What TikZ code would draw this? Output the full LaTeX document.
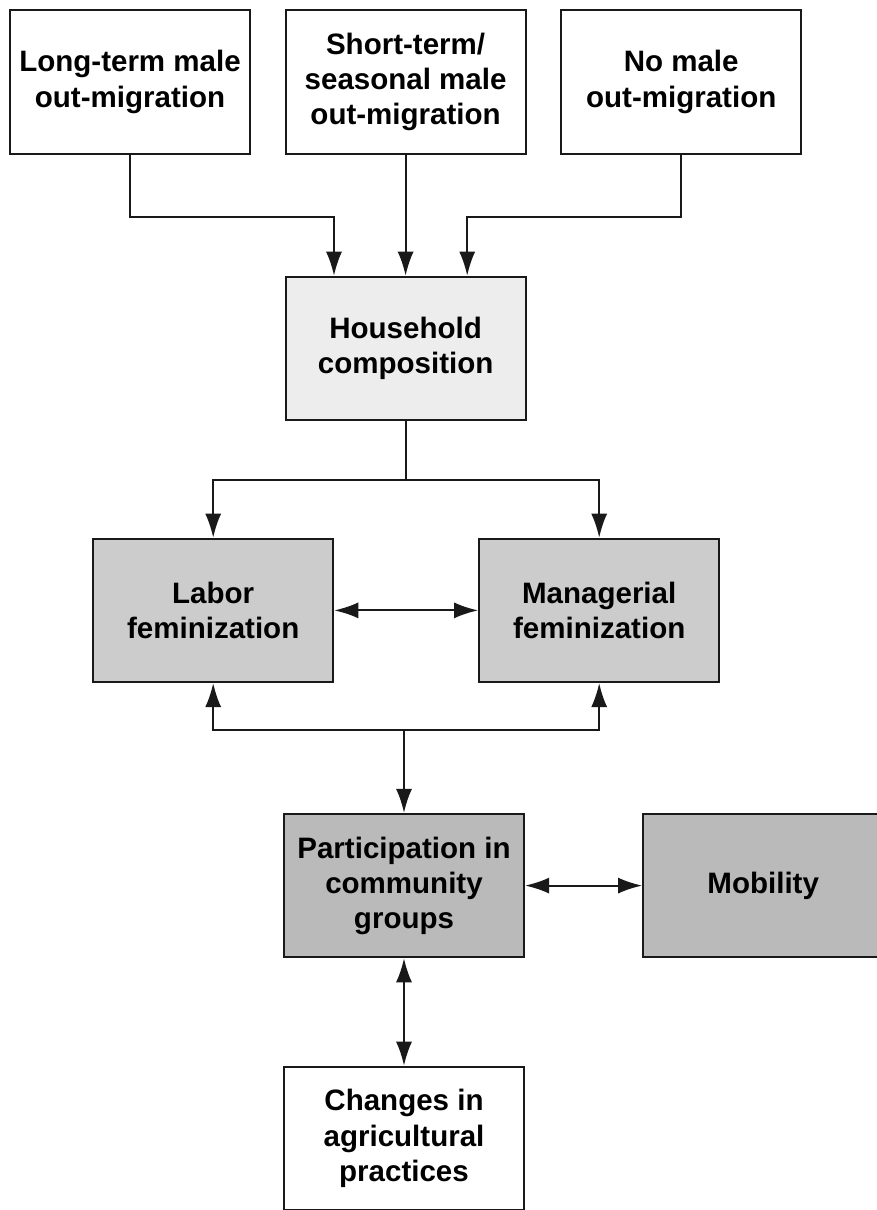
\documentclass[tikz,border=0pt]{standalone}
\usepackage{fontspec}
\setmainfont{Liberation Sans}
\usetikzlibrary{arrows.meta,positioning}

\begin{document}
\begin{tikzpicture}[font=\bfseries\fontsize{21}{25}\selectfont,>={Latex[length=0.6cm,width=0.4cm]},
 box/.style={draw=black!90,line width=1.5pt,minimum width=6cm,minimum height=3.58cm,align=center,inner sep=2pt},
 link/.style={line width=1.4pt,draw=black!90}]
\useasboundingbox (0,0) rectangle (21.9,30.25);
\node[box] (lt) at (3.25,28.2) {Long-term male\\out-migration};
\node[box] (st) at (10.14,28.2) {Short-term/\\seasonal male\\out-migration};
\node[box] (nm) at (17.03,28.2) {No male\\out-migration};
\node[box,fill=black!7] (hh) at (10.14,21.54) {Household\\composition};
\node[box,fill=black!20] (lab) at (5.33,14.99) {Labor\\feminization};
\node[box,fill=black!20] (man) at (14.98,14.99) {Managerial\\feminization};
\node[box,fill=black!27] (part) at (10.1,8.11) {Participation in\\community\\groups};
\node[box,fill=black!27] (mob) at (19.08,8.11) {Mobility};
\node[box] (chg) at (10.1,1.79) {Changes in\\agricultural\\practices};
\coordinate (inl) at ([xshift=-1.79cm]hh.north);
\coordinate (inr) at ([xshift=1.54cm]hh.north);
\coordinate (hsplit) at ([yshift=-1.475cm]hh.south);
\coordinate (psplit) at ([yshift=2.075cm]part.north);
\draw[link,->] (lt.south)--++(0,-1.55)-|(inl);
\draw[link,->] (st)--(hh);
\draw[link,->] (nm.south)--++(0,-1.55)-|(inr);
\draw[link] (hh.south)--(hsplit);
\draw[link,->] (hsplit)-|(lab.north);
\draw[link,->] (hsplit)-|(man.north);
\draw[link,<->] (lab)--(man);
\draw[link,->] (psplit)-|(lab.south);
\draw[link,->] (psplit)-|(man.south);
\draw[link,->] (psplit)--(part.north);
\draw[link,<->] (part)--(mob);
\draw[link,<->] (part)--(chg);
\end{tikzpicture}
\end{document}
